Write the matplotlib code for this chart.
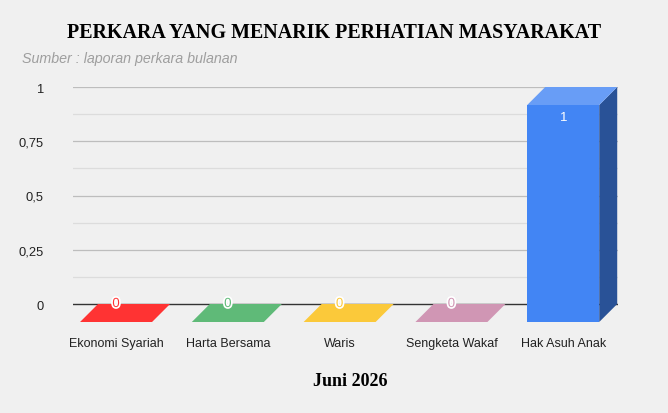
import matplotlib.pyplot as plt
from matplotlib.patches import Polygon
import matplotlib.colors as mcolors
import matplotlib.patheffects as pe

# data
kategori = ['Ekonomi Syariah', 'Harta Bersama', 'Waris', 'Sengketa Wakaf', 'Hak Asuh Anak']
jumlah = [0, 0, 0, 0, 1]
warna = ['#ff3333', '#5fba78', '#fbc93a', '#d096b4', '#4285f4']
y_ticks = [0, 0.25, 0.5, 0.75, 1]
y_labels = ['0', '0,25', '0,5', '0,75', '1']

bg = '#f0f0f0'
plt.rcParams['font.family'] = ['Liberation Sans', 'DejaVu Sans']
fig = plt.figure(figsize=(6.68, 4.14), dpi=100, facecolor=bg)
# posisi axes dalam piksel: kiri 73, kanan 618, atas 88, bawah 323
W, H = 668, 414
ax = fig.add_axes([73 / W, 1 - 323 / H, (618 - 73) / W, (323 - 88) / H])
ax.set_facecolor(bg)

xmin, xmax = -0.385, 4.49
px_x = (618 - 73) / (xmax - xmin)
px_y = 217.0
dy = 18 / px_y
dx = 18 / px_x
ax.set_xlim(xmin, xmax)
ax.set_ylim(-dy, 1)

# garis grid
for t in [0.125, 0.375, 0.625, 0.875]:
    ax.axhline(t, color='#dcdcdc', lw=0.9, zorder=0)
for t in y_ticks[1:]:
    ax.axhline(t, color='#bdbdbd', lw=0.9, zorder=0)

def darker(c, f):
    r, g, b = mcolors.to_rgb(c)
    return (r * f, g * f, b * f)

def lighter(c, f):
    r, g, b = mcolors.to_rgb(c)
    return (r + (1 - r) * f, g + (1 - g) * f, b + (1 - b) * f)

w = 72 / px_x
for i, (v, c) in enumerate(zip(jumlah, warna)):
    x0, x1 = i - w / 2, i + w / 2
    if v > 0:
        # muka depan
        ax.add_patch(Polygon([(x0, -dy), (x1, -dy), (x1, v - dy), (x0, v - dy)],
                             closed=True, fc=c, ec='none', zorder=3))
        # sisi samping
        ax.add_patch(Polygon([(x1, -dy), (x1 + dx, 0), (x1 + dx, v), (x1, v - dy)],
                             closed=True, fc=darker(c, 0.62), ec='none', zorder=3))
        # sisi atas
        ax.add_patch(Polygon([(x0, v - dy), (x1, v - dy), (x1 + dx, v), (x0 + dx, v)],
                             closed=True, fc=lighter(c, 0.2), ec='none', zorder=3))
        ax.text(i, v - dy - 12 / px_y, str(v), ha='center', va='center',
                color='white', fontsize=9.5, zorder=5)
    else:
        ax.add_patch(Polygon([(x0, -dy), (x1, -dy), (x1 + dx, 0), (x0 + dx, 0)],
                             closed=True, fc=c, ec='none', zorder=3))
        t = ax.text(i, 0.0, str(v), ha='center', va='center', color=c,
                    fontsize=9.5, zorder=5)
        t.set_path_effects([pe.withStroke(linewidth=2.5, foreground='white')])

# garis dasar
ax.axhline(0, color='#333333', lw=1, zorder=2)

for s in ax.spines.values():
    s.set_visible(False)
ax.set_yticks(y_ticks)
ax.set_yticklabels(y_labels)
ax.set_xticks(range(len(kategori)))
ax.set_xticklabels(kategori)
ax.tick_params(length=0, labelsize=9, colors='#222222')
ax.tick_params(axis='y', pad=21, labelsize=9.3)
ax.tick_params(axis='x', pad=11)

fig.text(334 / W, 1 - 33 / H, 'PERKARA YANG MENARIK PERHATIAN MASYARAKAT',
         ha='center', va='center', family='Liberation Serif', fontweight='bold',
         fontsize=14.4, color='black')
fig.text(22 / W, 1 - 59 / H, 'Sumber : laporan perkara bulanan', ha='left',
         va='center', family='Liberation Sans', style='italic', fontsize=10.3,
         color='#9e9e9e')
fig.text(350 / W, 1 - 382 / H, 'Juni 2026', ha='center', va='center',
         family='Liberation Serif', fontweight='bold', fontsize=13, color='black')

plt.savefig('out.png', dpi=100, facecolor=bg)
